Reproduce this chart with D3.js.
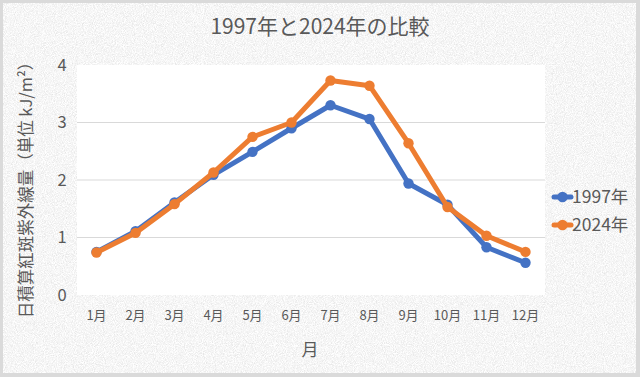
<!DOCTYPE html>
<html><head><meta charset="utf-8">
<script src="https://cdn.jsdelivr.net/npm/d3@7"></script>
<style>html,body{margin:0;padding:0;background:#fff;}svg{display:block;}</style>
</head><body>
<script>
const months = ["1月","2月","3月","4月","5月","6月","7月","8月","9月","10月","11月","12月"];
const series1997 = [0.75,1.11,1.61,2.09,2.49,2.90,3.30,3.06,1.94,1.57,0.83,0.56];
const series2024 = [0.74,1.08,1.58,2.13,2.75,3.00,3.73,3.64,2.64,1.53,1.03,0.75];
const yTicks = [0,1,2,3,4];
const seriesNames = ["1997年","2024年"];
const colors = ["#4472C4","#ED7D31"];
const titleText = "1997年と2024年の比較";
const xTitle = "月";
const yTitle = "日積算紅斑紫外線量（単位 kJ/m²）";

const W=640,H=377;
const font = "'Noto Sans CJK JP','Noto Sans',sans-serif";
const svg = d3.select("body").append("svg").attr("width",W).attr("height",H);
const defs = svg.append("defs");
const f = defs.append("filter").attr("id","noise").attr("x",0).attr("y",0).attr("width","100%").attr("height","100%");
f.append("feTurbulence").attr("type","fractalNoise").attr("baseFrequency",1.1).attr("numOctaves",2).attr("seed",3).attr("result","t");
f.append("feColorMatrix").attr("in","t").attr("type","matrix")
 .attr("values","0.4 0 0 0 0.72  0.4 0 0 0 0.72  0.4 0 0 0 0.72  0 0 0 0 1");

svg.append("rect").attr("width",W).attr("height",H).attr("fill","#dadada");
svg.append("rect").attr("x",3).attr("y",3).attr("width",W-7).attr("height",H-7).attr("filter","url(#noise)");

const plot = {l:77,r:545,t:65,b:295};
const x = d3.scaleBand().domain(months).range([plot.l,plot.r]);
const y = d3.scaleLinear().domain([0,4]).range([plot.b,plot.t]);

svg.append("rect").attr("x",plot.l).attr("y",plot.t).attr("width",plot.r-plot.l).attr("height",plot.b-plot.t).attr("fill","#fff");

svg.append("g").selectAll("line").data(yTicks.filter(d=>d>0&&d<4)).join("line")
 .attr("x1",plot.l).attr("x2",plot.r).attr("y1",d=>y(d)).attr("y2",d=>y(d))
 .attr("stroke","#d9d9d9").attr("stroke-width",1);

const yAxis = svg.append("g").attr("transform",`translate(${plot.l},0)`)
 .call(d3.axisLeft(y).tickValues(yTicks).tickSize(0).tickPadding(20).tickFormat(d3.format("d")));
yAxis.select(".domain").remove();
yAxis.selectAll("text").attr("font-family",font).attr("font-size",16.5).attr("fill","#595959").attr("text-anchor","middle").attr("dx",5);

const xAxis = svg.append("g").attr("transform",`translate(0,${plot.b})`)
 .call(d3.axisBottom(x).tickSize(0).tickPadding(16));
xAxis.select(".domain").remove();
xAxis.selectAll("text").attr("font-family",font).attr("font-size",13).attr("fill","#595959");

const cx = d=>x(d)+x.bandwidth()/2;
[series1997,series2024].forEach((s,i)=>{
  const data = months.map((m,j)=>({m,v:s[j]}));
  svg.append("path").datum(data).attr("fill","none").attr("stroke",colors[i]).attr("stroke-width",5)
   .attr("stroke-linejoin","round").attr("stroke-linecap","round")
   .attr("d",d3.line().x(d=>cx(d.m)).y(d=>y(d.v)));
  svg.append("g").selectAll("circle").data(data).join("circle")
   .attr("cx",d=>cx(d.m)).attr("cy",d=>y(d.v)).attr("r",5.2).attr("fill",colors[i]);
});

svg.append("text").attr("x",320).attr("y",34).attr("text-anchor","middle")
 .attr("font-family",font).attr("font-size",21).attr("fill","#595959").text(titleText);
svg.append("text").attr("x",310).attr("y",356).attr("text-anchor","middle")
 .attr("font-family",font).attr("font-size",17).attr("fill","#595959").text(xTitle);
svg.append("text").attr("transform","translate(32,186) rotate(-90)").attr("text-anchor","middle")
 .attr("font-family",font).attr("font-size",16.5).attr("fill","#595959").text(yTitle);

const lg = svg.append("g");
seriesNames.forEach((n,i)=>{
  const yy = 197 + i*28;
  lg.append("line").attr("x1",554).attr("x2",571).attr("y1",yy).attr("y2",yy).attr("stroke",colors[i]).attr("stroke-width",5).attr("stroke-linecap","round");
  lg.append("circle").attr("cx",562.5).attr("cy",yy).attr("r",5.2).attr("fill",colors[i]);
  lg.append("text").attr("x",572).attr("y",yy).attr("dy","0.35em").attr("font-family",font).attr("font-size",17.5).attr("fill","#595959").text(n);
});
</script>
</body></html>
